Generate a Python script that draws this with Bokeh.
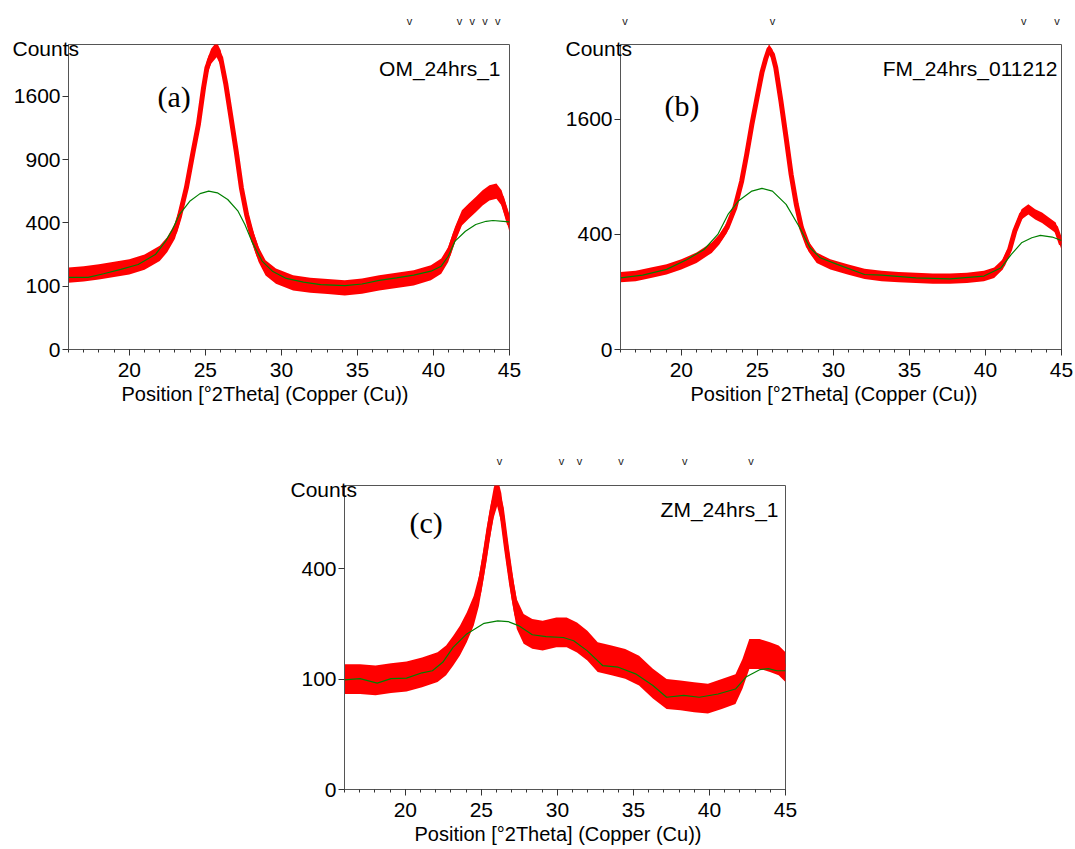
import numpy as np
from bokeh.plotting import figure
from bokeh.models import (FixedTicker, Label, Spacer, Title, LinearAxis,
                          Range1d, CustomJSTickFormatter)
from bokeh.layouts import column, row
from bokeh.embed import file_html
from bokeh.resources import INLINE

X_MIN, X_MAX = 16, 45
x_major = [20, 25, 30, 35, 40, 45]
x_minor = list(range(16, 46))
x_title = "Position [°2Theta] (Copper (Cu))"

# ---------------- Panel (a) OM_24hrs_1 ----------------
om_theta = [16.0, 17.0, 18.0, 19.0, 20.0, 21.0, 22.0, 22.5, 23.0, 23.3, 23.75, 24.2, 24.54, 24.88,
            25.1, 25.38, 25.74, 26.01, 26.35, 26.69, 27.03, 27.37, 27.71, 28.05, 28.5, 28.96,
            29.64, 30.77, 31.9, 33.04, 34.17, 35.3, 36.43, 37.57, 38.7, 39.83, 40.51, 40.97,
            41.42, 41.87, 42.32, 42.78, 43.23, 43.68, 44.14, 44.48, 44.82, 45.0]
om_counts = [138, 143, 150, 160, 170, 190, 230, 275, 349, 443, 651, 980, 1262, 1707,
             1978, 2145, 2244, 2121, 1751, 1338, 980, 651, 454, 330, 225, 166,
             134, 111, 103, 99, 95, 100, 111, 119, 128, 147, 173, 225,
             330, 432, 477, 524, 574, 612, 625, 574, 454, 390]
om_bg_theta = [16.0, 17.29, 18.31, 19.44, 20.58, 21.71, 22.39, 22.84, 23.29, 23.97, 24.65, 25.22,
               25.79, 26.47, 27.15, 27.6, 28.05, 28.73, 29.41, 30.32, 31.45, 32.58, 34.17, 35.3,
               36.43, 37.57, 38.7, 39.83, 40.51, 40.97, 41.42, 42.1, 42.78, 43.46, 43.91, 44.59, 45.0]
om_bg_counts = [130, 130, 143, 160, 180, 225, 293, 359, 454, 548, 606, 625,
                612, 561, 477, 390, 293, 195, 153, 126, 113, 105, 102, 107,
                119, 128, 138, 153, 173, 217, 293, 349, 390, 410, 415, 410, 406]
om_marks = [38.43, 41.71, 42.55, 43.39, 44.23]
om_yticks = [0, 100, 400, 900, 1600]
om_ymax = 2320

# ---------------- Panel (b) FM_24hrs_011212 ----------------
fm_theta = [16.0, 17.0, 18.0, 19.03, 20.0, 21.0, 22.0, 22.5, 23.0, 23.52, 23.97, 24.3, 24.64,
            24.98, 25.3, 25.54, 25.76, 25.99, 26.21, 26.55, 26.89, 27.22, 27.56, 27.9, 28.35,
            28.9, 29.8, 30.93, 32.05, 33.17, 34.29, 35.42, 36.54, 37.66, 38.78, 39.9, 40.57,
            41.14, 41.59, 41.93, 42.37, 42.82, 43.27, 43.72, 44.17, 44.62, 45.0]
fm_counts = [158, 163, 178, 194, 219, 254, 313, 366, 448, 607, 857, 1150, 1531,
             1916, 2315, 2544, 2722, 2632, 2400, 1865, 1355, 926, 636, 448, 323,
             254, 219, 194, 173, 163, 158, 155, 152, 152, 155, 163, 178,
             219, 302, 424, 551, 593, 551, 524, 485, 448, 333]
fm_bg_theta = [16.0, 17.46, 19.03, 20.38, 21.5, 22.4, 23.07, 23.75, 24.64, 25.3, 25.99, 26.89,
               27.79, 28.46, 29.13, 30.25, 32.05, 33.17, 35.42, 37.66, 39.9, 41.03, 41.7, 42.37,
               43.05, 43.61, 44.39, 45.0]
fm_bg_counts = [155, 167, 194, 245, 302, 400, 551, 666, 758, 784, 758, 636,
                448, 313, 254, 219, 170, 167, 155, 151, 163, 202, 273, 344,
                377, 393, 382, 359]
fm_marks = [16.29, 25.99, 42.51, 44.71]
fm_yticks = [0, 400, 1600]
fm_ymax = 2810

# ---------------- Panel (c) ZM_24hrs_1 ----------------
zm_theta = [16.0, 17.02, 18.04, 19.06, 20.08, 21.1, 22.12, 22.68, 23.14, 23.59, 24.04, 24.5,
            24.84, 25.18, 25.51, 25.81, 26.04, 26.31, 26.65, 26.99, 27.33, 27.78, 28.35, 29.03,
            29.93, 30.61, 31.29, 31.97, 32.65, 33.56, 34.46, 35.37, 36.28, 37.18, 38.09, 38.99,
            39.9, 40.81, 41.71, 42.17, 42.62, 43.3, 43.98, 44.55, 45.0]
zm_counts = [100, 100, 98, 102, 105, 113, 123, 137, 158, 182, 216, 263,
             324, 430, 563, 676, 731, 652, 480, 346, 253, 212, 199, 195,
             203, 203, 190, 170, 144, 137, 130, 116, 92, 75, 73, 70,
             68, 75, 83, 110, 151, 151, 144, 137, 123]
zm_bg_theta = [16.0, 17.02, 18.15, 19.06, 20.08, 21.1, 21.78, 22.46, 23.14, 24.04, 25.18, 26.08,
               26.76, 27.44, 28.35, 29.25, 30.39, 31.07, 31.97, 32.99, 34.0, 35.14, 36.28, 37.18,
               38.31, 39.33, 40.57, 41.71, 42.4, 43.3, 43.87, 44.43, 45.0]
zm_bg_counts = [99, 101, 93, 101, 102, 112, 116, 133, 166, 199, 227, 234,
                232, 221, 197, 192, 190, 182, 158, 126, 123, 110, 89, 70,
                73, 70, 75, 83, 104, 118, 120, 116, 116]
zm_marks = [26.19, 30.27, 31.45, 34.19, 38.38, 42.73]
zm_yticks = [0, 100, 400]
zm_ymax = 760

SANS = "Liberation Sans"
SERIF = "Liberation Serif"
AX = "#555555"


def make_panel(theta, counts, bg_theta, bg_counts, marks, yticks, ymax, name, letter,
               W, H, ml, mr, mt, mb, noise, name_dx, letter_dx, letter_dy, title_dx, counts_dx,
               mark_standoff):
    FW = W - ml - mr
    FH = H - mt - mb
    ys = float(np.sqrt(ymax))
    sx = (X_MAX - X_MIN) / FW
    sy = ys / FH
    p = figure(width=W, height=H, title=None, x_range=Range1d(X_MIN, X_MAX),
               y_range=Range1d(0, ys), output_backend="svg", toolbar_location=None,
               min_border_left=ml, min_border_right=mr, min_border_top=mt,
               min_border_bottom=mb, background_fill_color="white",
               border_fill_color="white")
    p.grid.visible = False
    p.outline_line_color = AX
    p.outline_line_width = 1

    r = np.sqrt(np.array(counts, dtype=float))
    p.varea(x=theta, y1=r - noise, y2=r + noise, fill_color="#ff0000", fill_alpha=1.0)
    p.line(theta, r, line_color="#ff0000", line_width=5, line_join="round")
    p.line(bg_theta, np.sqrt(np.array(bg_counts, dtype=float)), line_color="#008000",
           line_width=1.2)

    xa = p.xaxis[0]
    xa.ticker = FixedTicker(ticks=x_major, minor_ticks=x_minor)
    xa.axis_line_color = AX
    xa.major_tick_line_color = "#333333"
    xa.minor_tick_line_color = "#333333"
    xa.major_tick_out = 6
    xa.major_tick_in = 0
    xa.minor_tick_out = 3
    xa.minor_tick_in = 0
    xa.major_label_text_font = SANS
    xa.major_label_text_font_size = "21px"
    xa.major_label_text_color = "black"
    xa.major_label_standoff = 7

    ya = p.yaxis[0]
    ya.ticker = FixedTicker(ticks=[float(np.sqrt(t)) for t in yticks], minor_ticks=[])
    ya.formatter = CustomJSTickFormatter(code="return (tick*tick).toFixed(0);")
    ya.axis_line_color = AX
    ya.major_tick_line_color = "#333333"
    ya.minor_tick_line_color = None
    ya.major_tick_out = 6
    ya.major_tick_in = 0
    ya.major_label_text_font = SANS
    ya.major_label_text_font_size = "21px"
    ya.major_label_text_color = "black"
    ya.major_label_standoff = 2

    # "Counts" at the top-left corner, overlapping the frame edge
    p.add_layout(Title(text="Counts", align="left", offset=counts_dx, standoff=-30,
                       vertical_align="bottom", text_font=SANS, text_font_size="21px",
                       text_font_style="normal", text_color="black"), "above")

    # reference peak markers above the frame (an extra top axis)
    mk = LinearAxis(ticker=FixedTicker(ticks=marks, minor_ticks=[]),
                    formatter=CustomJSTickFormatter(code='return "v";'),
                    axis_line_color=None, major_tick_line_color=None,
                    minor_tick_line_color=None, major_label_standoff=mark_standoff,
                    major_label_text_font=SANS, major_label_text_font_size="11px",
                    major_label_text_color="#222222")
    p.add_layout(mk, "above")

    # sample name
    p.add_layout(Label(x=X_MAX - name_dx * sx, y=ys - 24 * sy, text=name, text_align="right",
                       text_baseline="alphabetic", text_font=SANS, text_font_size="21px",
                       text_color="black"))
    # panel letter
    p.add_layout(Label(x=X_MIN + letter_dx * sx, y=ys - letter_dy * sy, text=letter,
                       text_align="left", text_baseline="middle", text_font=SERIF,
                       text_font_size="30px", text_color="black"))
    # x axis title
    p.add_layout(Title(text=x_title, align="left", offset=title_dx, standoff=6,
                       vertical_align="top", text_font=SANS, text_font_size="20px",
                       text_font_style="normal", text_color="black"), "below")
    return p


pa = make_panel(om_theta, om_counts, om_bg_theta, om_bg_counts, om_marks, om_yticks, om_ymax,
                "OM_24hrs_1", "(a)", W=540, H=410, ml=68, mr=31, mt=44, mb=61,
                noise=1.2, name_dx=9, letter_dx=89, letter_dy=52, title_dx=53, counts_dx=-56,
                mark_standoff=12)
pb = make_panel(fm_theta, fm_counts, fm_bg_theta, fm_bg_counts, fm_marks, fm_yticks, fm_ymax,
                "FM_24hrs_011212", "(b)", W=535, H=410, ml=80, mr=14, mt=44, mb=61,
                noise=0.9, name_dx=4, letter_dx=44, letter_dy=61, title_dx=70, counts_dx=-55,
                mark_standoff=12)
pc = make_panel(zm_theta, zm_counts, zm_bg_theta, zm_bg_counts, zm_marks, zm_yticks, zm_ymax,
                "ZM_24hrs_1", "(c)", W=540, H=439, ml=68, mr=31, mt=75, mb=60,
                noise=1.35, name_dx=7, letter_dx=65, letter_dy=37, title_dx=70, counts_dx=-54,
                mark_standoff=13)

layout = column(row(pa, pb), row(Spacer(width=276, height=439), pc))

open("out.html", "w").write(file_html(layout, INLINE))
